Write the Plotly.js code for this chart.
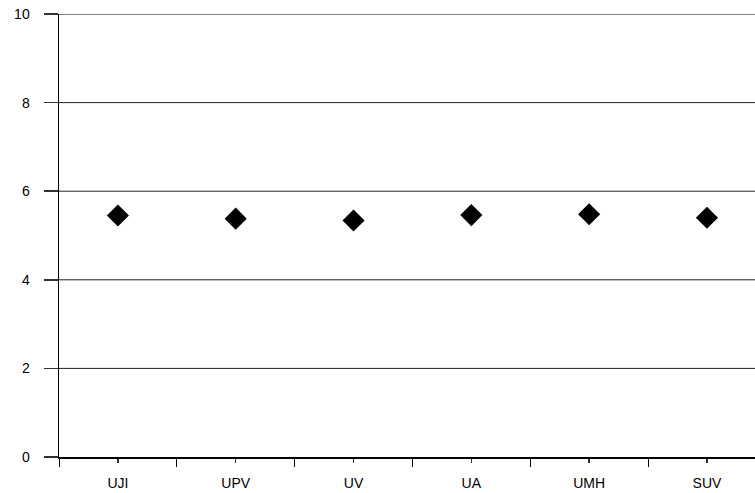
<!DOCTYPE html>
<html>
<head>
<meta charset="utf-8">
<script src="https://cdn.plot.ly/plotly-3.0.1.min.js"></script>
<style>html,body{margin:0;padding:0;background:#fff;}#chart{width:755px;height:493px;}</style>
</head>
<body>
<div id="chart"></div>
<script>
const categories = ["UJI", "UPV", "UV", "UA", "UMH", "SUV"];
const values = [5.45, 5.38, 5.34, 5.46, 5.48, 5.40];
const yTicks = [0, 2, 4, 6, 8, 10];

const xPos = categories.map((c, i) => i);
const boundaries = categories.map((c, i) => i - 0.5).concat([categories.length - 0.5]);

const trace = {
  x: xPos,
  y: values,
  type: 'scatter',
  mode: 'markers',
  marker: {symbol: 'diamond', size: 17, color: '#000'},
  hoverinfo: 'skip'
};

// horizontal gridlines placed by the y scale at the tick values
const gridShapes = yTicks.filter(v => v > 0).map(v => ({
  type: 'line',
  xref: 'paper', x0: 0, x1: 1,
  yref: 'y', y0: v, y1: v,
  line: {color: v === 10 ? '#000' : '#222', width: 1},
  layer: 'below'
}));

const layout = {
  width: 755,
  height: 493,
  margin: {l: 59, r: 0, t: 14, b: 36},
  paper_bgcolor: '#fff',
  plot_bgcolor: '#fff',
  showlegend: false,
  font: {family: 'Liberation Sans, Arial, sans-serif', size: 14, color: '#000'},
  shapes: gridShapes,
  xaxis: {
    type: 'linear',
    range: [-0.5, 5.408],
    tickmode: 'array',
    tickvals: xPos,
    ticktext: categories,
    ticks: 'outside',
    ticklen: 4,
    tickwidth: 1.5,
    tickcolor: '#333',
    ticklabelstandoff: 9,
    showgrid: false,
    zeroline: false,
    showline: true,
    linecolor: '#000',
    linewidth: 1.5,
    minor: {
      tickmode: 'array',
      tickvals: boundaries,
      ticks: 'outside',
      ticklen: 8,
      tickwidth: 1,
      tickcolor: '#000',
      showgrid: false
    },
    fixedrange: true
  },
  yaxis: {
    range: [0, 10],
    tickmode: 'array',
    tickvals: yTicks,
    ticktext: yTicks.map(String),
    ticks: 'outside',
    ticklen: 14,
    tickwidth: 1.5,
    tickcolor: '#333',
    ticklabelstandoff: 11,
    showgrid: false,
    zeroline: false,
    showline: true,
    linecolor: '#000',
    linewidth: 1.5,
    fixedrange: true
  }
};

Plotly.newPlot('chart', [trace], layout, {displayModeBar: false, staticPlot: true});
</script>
</body>
</html>
